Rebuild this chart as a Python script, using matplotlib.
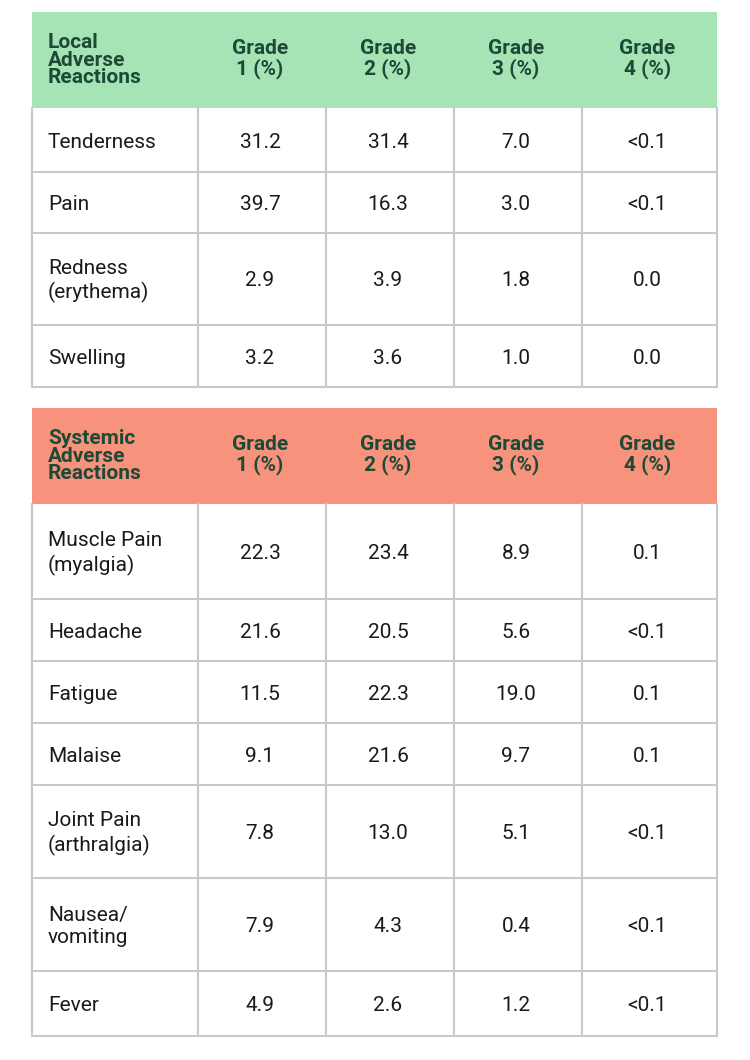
import matplotlib
matplotlib.use("Agg")
import matplotlib.pyplot as plt
from matplotlib.patches import Rectangle

headers = ["Grade\n1 (%)", "Grade\n2 (%)", "Grade\n3 (%)", "Grade\n4 (%)"]
local_title = "Local\nAdverse\nReactions"
local_rows = ["Tenderness", "Pain", "Redness\n(erythema)", "Swelling"]
local_vals = [["31.2", "31.4", "7.0", "<0.1"],
              ["39.7", "16.3", "3.0", "<0.1"],
              ["2.9", "3.9", "1.8", "0.0"],
              ["3.2", "3.6", "1.0", "0.0"]]
sys_title = "Systemic\nAdverse\nReactions"
sys_rows = ["Muscle Pain\n(myalgia)", "Headache", "Fatigue", "Malaise",
            "Joint Pain\n(arthralgia)", "Nausea/\nvomiting", "Fever"]
sys_vals = [["22.3", "23.4", "8.9", "0.1"],
            ["21.6", "20.5", "5.6", "<0.1"],
            ["11.5", "22.3", "19.0", "0.1"],
            ["9.1", "21.6", "9.7", "0.1"],
            ["7.8", "13.0", "5.1", "<0.1"],
            ["7.9", "4.3", "0.4", "<0.1"],
            ["4.9", "2.6", "1.2", "<0.1"]]

fig = plt.figure(figsize=(7.5, 10.6), dpi=100)
ax = fig.add_axes([0, 0, 1, 1])
ax.set_xlim(0, 750); ax.set_ylim(1060, 0); ax.axis("off")

cols = [32, 198, 326, 454, 582, 717]
hdr_color = "#1d4a36"
grid = "#c9c9c9"
body = "#1a1a1a"

def draw(top, hdr_h, row_bounds, title, rows, vals, fill):
    ax.add_patch(Rectangle((cols[0], top), cols[-1]-cols[0], hdr_h, color=fill, lw=0))
    ax.text(cols[0]+16, top+hdr_h/2, title, ha="left", va="center", fontsize=15,
            fontweight="bold", color=hdr_color, family="Roboto", linespacing=0.88)
    for i, h in enumerate(headers):
        cx = (cols[i+1]+cols[i+2])/2 - 2
        ax.text(cx, top+hdr_h/2 - 1, h, ha="center", va="center", fontsize=15,
                fontweight="bold", color=hdr_color, family="Roboto", linespacing=1.0)
    ys = row_bounds
    bot = ys[-1]
    for x in cols:
        ax.plot([x, x], [top+hdr_h, bot], color=grid, lw=1.5)
    for y in ys[1:]:
        ax.plot([cols[0], cols[-1]], [y, y], color=grid, lw=1.5)
    for r, name in enumerate(rows):
        cy = (ys[r]+ys[r+1])/2 + 2
        ax.text(cols[0]+16, cy, name, ha="left", va="center", fontsize=15,
                color=body, family="Roboto", linespacing=1.25)
        for c, v in enumerate(vals[r]):
            cx = (cols[c+1]+cols[c+2])/2 - 2
            ax.text(cx, cy, v, ha="center", va="center", fontsize=15,
                    color=body, family="Roboto")

draw(12, 96, [108, 172, 233, 325, 387], local_title, local_rows, local_vals, "#a6e3b5")
draw(408, 96, [504, 599, 661, 723, 785, 878, 971, 1036], sys_title, sys_rows, sys_vals, "#f7927d")

fig.savefig("out.png", dpi=100, facecolor="white")
